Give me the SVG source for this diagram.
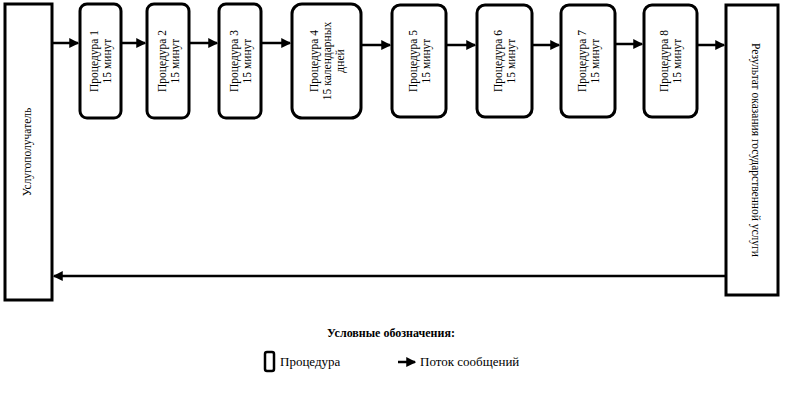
<svg xmlns="http://www.w3.org/2000/svg" width="800" height="400" viewBox="0 0 800 400">
<style>
.b{fill:#fff;stroke:#000;stroke-width:3}
.t{font-family:"Liberation Serif",serif;font-size:11.5px;fill:#000;text-anchor:middle}
.c{stroke:#000;stroke-width:2.5;fill:none;marker-end:url(#a)}
</style>
<defs><marker id="a" markerWidth="4" markerHeight="4" refX="3.5" refY="2" orient="auto"><path d="M0,0L4,2L0,4z" fill="#000"/></marker></defs>
<rect width="800" height="400" fill="#fff"/>
<g id="client"><rect class="b" x="5" y="4" width="47" height="296"/><text class="t" transform="translate(31,152) rotate(-90)">Услугополучатель</text></g>
<g id="result"><rect class="b" x="726" y="5" width="52" height="290"/><text class="t" transform="translate(752,150) rotate(90)">Результат оказания государственной услуги</text></g>
<g id="p1"><rect class="b" x="80" y="4" width="41" height="114" rx="7"/><text class="t" transform="translate(100,61) rotate(-90)"><tspan x="0" y="-2">Процедура 1</tspan><tspan x="0" y="11">15 минут</tspan></text></g>
<g id="p2"><rect class="b" x="147" y="4" width="42" height="114" rx="7"/><text class="t" transform="translate(168,61) rotate(-90)"><tspan x="0" y="-2">Процедура 2</tspan><tspan x="0" y="11">15 минут</tspan></text></g>
<g id="p3"><rect class="b" x="219" y="4" width="42" height="114" rx="7"/><text class="t" transform="translate(240,61) rotate(-90)"><tspan x="0" y="-2">Процедура 3</tspan><tspan x="0" y="11">15 минут</tspan></text></g>
<g id="p4"><rect class="b" x="292" y="4" width="69" height="114" rx="10"/><text class="t" transform="translate(326,61) rotate(-90)"><tspan x="0" y="-8">Процедура 4</tspan><tspan x="0" y="5">15 календарных</tspan><tspan x="0" y="18">дней</tspan></text></g>
<g id="p5"><rect class="b" x="392" y="5" width="54" height="112" rx="8"/><text class="t" transform="translate(419,61) rotate(-90)"><tspan x="0" y="-2">Процедура 5</tspan><tspan x="0" y="11">15 минут</tspan></text></g>
<g id="p6"><rect class="b" x="477" y="5" width="55" height="112" rx="8"/><text class="t" transform="translate(504,61) rotate(-90)"><tspan x="0" y="-2">Процедура 6</tspan><tspan x="0" y="11">15 минут</tspan></text></g>
<g id="p7"><rect class="b" x="561" y="5" width="54" height="112" rx="8"/><text class="t" transform="translate(588,61) rotate(-90)"><tspan x="0" y="-2">Процедура 7</tspan><tspan x="0" y="11">15 минут</tspan></text></g>
<g id="p8"><rect class="b" x="644" y="5" width="53" height="112" rx="8"/><text class="t" transform="translate(670,61) rotate(-90)"><tspan x="0" y="-2">Процедура 8</tspan><tspan x="0" y="11">15 минут</tspan></text></g>
<g id="connectors">
<line class="c" x1="53" y1="43" x2="78" y2="43"/>
<line class="c" x1="122" y1="43" x2="145" y2="43"/>
<line class="c" x1="190" y1="43" x2="217" y2="43"/>
<line class="c" x1="262" y1="43" x2="290" y2="43"/>
<line class="c" x1="362" y1="45" x2="390" y2="45"/>
<line class="c" x1="447" y1="45" x2="475" y2="45"/>
<line class="c" x1="532" y1="45" x2="559" y2="45"/>
<line class="c" x1="616" y1="44" x2="642" y2="44"/>
<line class="c" x1="698" y1="45" x2="724" y2="45"/>
<line class="c" x1="725" y1="276" x2="54" y2="276"/>
</g>
<g id="legend">
<text x="391" y="337" style="font-family:'Liberation Serif',serif;font-size:12px;font-weight:bold;text-anchor:middle">Условные обозначения:</text>
<rect x="265" y="352" width="9" height="19" rx="2" fill="#fff" stroke="#000" stroke-width="2.5"/>
<text x="280" y="366" style="font-family:'Liberation Serif',serif;font-size:13px">Процедура</text>
<line class="c" x1="398" y1="362" x2="415" y2="362"/>
<text x="420" y="366" style="font-family:'Liberation Serif',serif;font-size:13px">Поток сообщений</text>
</g>
</svg>
